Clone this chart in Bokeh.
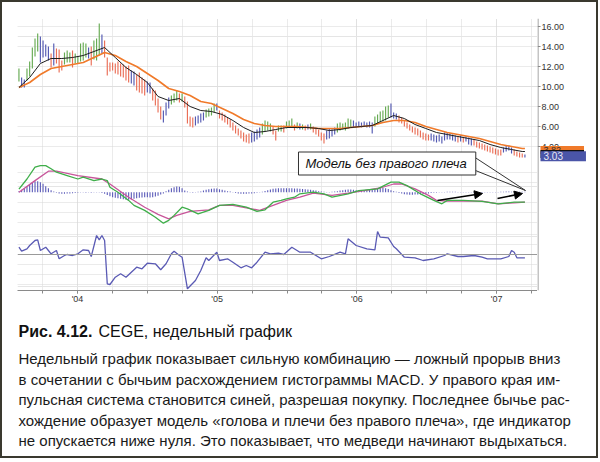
import numpy as np
import pandas as pd
from bokeh.plotting import figure
from bokeh.layouts import column, row
from bokeh.models import (Range1d, FixedTicker, Grid, Span, Label, Arrow,
                          NormalHead, ColumnDataSource)
from bokeh.embed import file_html
from bokeh.resources import INLINE
from bokeh.core.properties import value

# ---------------- data (weekly bars, CEGE) ----------------
first_week = "2003-08-01"

highs = [11.8, 10.9, 10.7, 11.8, 12.5, 13.9, 14.8, 15.3, 15.0, 14.6,
         14.2, 14.0, 13.3, 14.3, 13.8, 13.7, 12.6, 13.4, 13.6, 13.4,
         13.6, 13.3, 13.0, 14.3, 14.4, 14.3, 13.9, 14.0, 14.6, 14.8,
         16.3, 15.2, 14.6, 12.9, 12.4, 12.4, 12.3, 12.5, 12.3, 12.2,
         12.0, 12.1, 11.6, 11.5, 11.2, 11.4, 10.9, 10.7, 10.5, 10.4,
         9.8, 9.6, 8.8, 8.0, 7.6, 8.4, 8.9, 9.1, 9.3, 9.6,
         9.3, 9.3, 9.0, 8.5, 7.0, 6.9, 7.0, 7.1, 7.3, 7.4,
         7.7, 7.8, 7.9, 8.3, 8.3, 7.6, 7.4, 7.2, 6.9, 6.7,
         6.4, 6.1, 5.8, 5.6, 5.4, 5.2, 5.3, 5.4, 5.5, 5.7,
         5.9, 6.3, 6.6, 6.5, 6.3, 6.0, 5.6, 6.1, 6.1, 6.1,
         6.5, 6.6, 6.8, 6.2, 6.4, 6.3, 6.2, 6.1, 6.2, 6.3,
         6.0, 5.9, 5.7, 5.4, 5.3, 5.6, 5.8, 5.7, 5.9, 6.3,
         6.4, 6.3, 6.4, 6.8, 6.7, 6.6, 6.4, 6.5, 6.4, 6.5,
         6.4, 6.5, 6.4, 7.0, 7.2, 7.5, 7.6, 8.0, 8.1, 8.3,
         7.4, 7.3, 7.1, 6.9, 6.6, 6.4, 6.2, 6.0, 5.9, 5.8,
         5.6, 5.4, 5.3, 5.2, 5.3, 5.2, 5.1, 5.2, 5.0, 5.4,
         5.4, 5.3, 5.2, 5.1, 5.0, 5.1, 4.9, 5.0, 4.9, 4.8,
         4.7, 4.5, 4.4, 4.3, 4.2, 4.1, 4.0, 3.9, 3.8, 3.7,
         3.7, 3.9, 4.1, 4.1, 3.9, 3.7, 3.5, 3.4, 3.3, 3.2]

lows = [10.5, 9.9, 9.9, 10.6, 11.0, 11.8, 13.0, 13.5, 12.4, 12.9,
        13.0, 12.6, 11.9, 12.1, 12.3, 11.4, 11.6, 12.2, 12.4, 12.4,
        11.9, 12.3, 12.3, 12.5, 12.6, 12.9, 12.8, 12.1, 12.7, 12.6,
        13.1, 13.3, 12.9, 11.1, 11.5, 11.6, 11.3, 11.2, 11.0, 10.9,
        10.6, 10.4, 10.3, 10.1, 9.6, 9.4, 9.3, 9.1, 9.4, 9.3,
        8.6, 8.1, 7.4, 6.7, 6.4, 7.1, 7.8, 8.2, 8.4, 8.6,
        8.4, 8.5, 7.9, 6.3, 6.0, 5.9, 6.1, 6.3, 6.4, 6.6,
        6.9, 7.0, 7.1, 7.4, 7.6, 6.8, 6.6, 6.4, 6.2, 5.9,
        5.6, 5.3, 5.1, 4.8, 4.5, 4.4, 4.3, 4.4, 4.5, 4.7,
        4.9, 5.2, 5.5, 5.6, 5.5, 5.2, 4.6, 5.5, 5.5, 5.4,
        5.8, 5.9, 5.9, 5.6, 5.8, 5.7, 5.7, 5.6, 5.7, 5.7,
        5.4, 5.2, 5.0, 4.6, 4.3, 4.7, 4.8, 5.0, 5.2, 5.4,
        5.6, 5.7, 5.6, 5.8, 5.9, 5.9, 5.9, 6.0, 5.9, 6.0,
        5.9, 5.9, 5.3, 6.0, 6.3, 6.4, 6.5, 6.6, 6.9, 6.9,
        6.8, 6.7, 6.4, 6.3, 6.0, 5.8, 5.6, 5.4, 5.2, 5.1,
        4.9, 4.7, 4.6, 4.6, 4.6, 4.5, 4.4, 4.5, 4.3, 4.6,
        4.7, 4.7, 4.6, 4.5, 4.4, 4.5, 4.4, 4.5, 4.2, 4.1,
        4.1, 3.9, 3.8, 3.7, 3.6, 3.5, 3.4, 3.3, 3.2, 3.1,
        3.1, 3.4, 3.5, 3.6, 3.3, 3.1, 3.0, 2.9, 2.9, 2.9]

# impulse system colour of every bar: g = green, r = red, b = blue
impulse = ("gbbgggggbb" "bbrbrrrggg" "rgggggbrgg" "gbrrrrrrrr" "rrbbrrrrbb"
           "rrrrbbbggg" "rgrrrrbbbb" "ggggbrrrrr" "rrrrrrrbbb" "bggggrrggr"
           "gggrgbgrbg" "rrrrrbbbbg" "gggggbbbbb" "bbbggggggb" "bbrrrrrrrr"
           "rrrrbbbbbb" "bbbbrbrbbb" "rrrrrrrrrr" "rbbbbrrrrb")

# moving averages read at every 4th week
ema_weeks = [0, 4, 8, 12, 16, 20, 24, 28, 32, 36, 40, 44, 48, 52, 56, 60, 64, 68, 72, 76,
             80, 84, 88, 92, 96, 100, 104, 108, 112, 116, 120, 124, 128, 132, 136, 140,
             144, 148, 152, 156, 160, 164, 168, 172, 176, 180, 184, 188, 189]
ema_fast = [9.9, 10.9, 12.3, 12.8, 12.8, 12.9, 13.1, 13.5, 13.9, 12.9, 11.9, 11.2, 10.4,
            9.0, 8.6, 8.8, 8.0, 7.6, 7.5, 7.2, 6.6, 5.9, 5.4, 5.5, 5.7, 5.9, 5.9, 5.9,
            5.8, 5.6, 5.7, 5.9, 6.0, 6.1, 6.6, 7.1, 6.8, 6.2, 5.8, 5.4, 5.2, 5.0, 4.8,
            4.6, 4.2, 3.9, 3.7, 3.5, 3.5]
ema_slow = [9.9, 10.4, 11.2, 11.8, 12.0, 12.2, 12.4, 12.9, 13.4, 13.1, 12.5, 12.0, 11.3,
            10.6, 9.8, 9.5, 9.1, 8.5, 8.3, 7.8, 7.3, 6.7, 6.3, 6.1, 6.0, 6.0, 6.0, 5.9,
            5.8, 5.8, 5.8, 5.9, 6.0, 6.1, 6.4, 6.6, 6.6, 6.4, 6.0, 5.7, 5.4, 5.2, 5.0,
            4.8, 4.5, 4.2, 4.0, 3.8, 3.8]

# MACD lines (read points) and histogram (every week)
macd_weeks = [0, 3, 6, 8, 10, 12, 14, 18, 22, 24, 28, 31, 33, 34, 37, 41, 43, 47, 51, 54,
              56, 58, 61, 63, 67, 71, 75, 80, 85, 89, 92, 95, 98, 100, 103, 105, 110, 114,
              117, 123, 127, 134, 139, 142, 145, 150, 155, 158, 160, 166, 173, 179, 185, 189]
macd_line = [0.15, 0.66, 1.25, 1.33, 1.33, 1.17, 1.0, 0.83, 0.66, 0.75, 0.58, 0.66, 0.58,
             0.25, 0.0, -0.41, -0.66, -0.91, -1.25, -1.55, -1.41, -1.16, -0.75, -0.83,
             -1.08, -0.91, -0.66, -0.61, -0.75, -0.96, -0.88, -0.5, -0.41, -0.33, -0.25,
             -0.08, 0.0, -0.08, -0.25, -0.08, 0.08, 0.17, 0.5, 0.5, 0.33, -0.08, -0.41,
             -0.58, -0.41, -0.41, -0.46, -0.58, -0.5, -0.5]
signal_weeks = [0, 6, 11, 14, 22, 31, 34, 41, 47, 52, 56, 59, 64, 71, 75, 80, 87, 90, 95,
                100, 105, 110, 117, 123, 129, 135, 140, 143, 148, 153, 156, 160, 166, 173,
                179, 185, 189]
signal_line = [0.0, 0.58, 1.05, 1.05, 0.83, 0.66, 0.41, -0.25, -0.75, -1.11, -1.33, -1.16,
               -0.96, -0.88, -0.66, -0.66, -0.83, -0.91, -0.66, -0.41, -0.25, -0.05, -0.16,
               -0.05, 0.08, 0.21, 0.41, 0.41, 0.17, -0.16, -0.41, -0.45, -0.45, -0.45,
               -0.58, -0.53, -0.5]
macd_hist = [0.05, 0.12, 0.2, 0.3, 0.4, 0.48, 0.55, 0.55, 0.5, 0.42,
             0.3, 0.2, 0.1, 0.03, -0.03, -0.06, -0.08, -0.08, -0.07, -0.06,
             -0.05, -0.04, -0.03, -0.02, -0.02, -0.03, -0.02, -0.03, -0.02, -0.02,
             -0.02, -0.04, -0.08, -0.14, -0.2, -0.25, -0.28, -0.3, -0.33, -0.35,
             -0.38, -0.38, -0.36, -0.33, -0.3, -0.28, -0.26, -0.25, -0.25, -0.26,
             -0.25, -0.22, -0.18, -0.12, -0.06, 0.05, 0.12, 0.2, 0.25, 0.28,
             0.27, 0.2, 0.08, 0.03, -0.02, -0.03, -0.02, 0.02, 0.04, 0.08,
             0.12, 0.15, 0.17, 0.18, 0.18, 0.15, 0.12, 0.08, 0.05, 0.03,
             -0.02, -0.04, -0.06, -0.08, -0.08, -0.08, -0.07, -0.06, -0.05, -0.03,
             -0.02, 0.02, 0.06, 0.1, 0.14, 0.17, 0.18, 0.2, 0.2, 0.2,
             0.2, 0.2, 0.2, 0.19, 0.18, 0.17, 0.16, 0.15, 0.14, 0.12,
             0.1, 0.08, 0.05, 0.03, 0.02, -0.02, -0.02, 0.02, 0.03, 0.05,
             0.08, 0.1, 0.12, 0.13, 0.13, 0.12, 0.1, 0.08, 0.07, 0.08,
             0.1, 0.12, 0.14, 0.17, 0.2, 0.22, 0.22, 0.2, 0.16, 0.1,
             0.05, 0.02, -0.04, -0.07, -0.1, -0.12, -0.13, -0.13, -0.12, -0.11,
             -0.1, -0.09, -0.08, -0.06, -0.04, -0.03, -0.03, -0.02, -0.02, -0.02,
             0.02, 0.02, 0.02, 0.02, -0.02, -0.02, -0.02, -0.02, -0.02, -0.02,
             -0.03, -0.03, -0.03, -0.03, -0.02, -0.02, -0.02, -0.02, -0.02, -0.02,
             0.02, 0.02, 0.03, 0.03, 0.02, 0.02, 0.02, 0.02, 0.02, 0.02]

# Force index (read points)
force_weeks = [0, 1, 3, 4, 6, 7, 8, 10, 11, 12, 14, 15, 17, 18, 20, 22, 24, 26, 27, 29,
               30, 31, 32, 33, 34, 36, 38, 40, 42, 44, 46, 48, 51, 53, 55, 57, 58, 60, 61,
               63, 66, 68, 70, 71, 74, 75, 78, 80, 83, 85, 87, 89, 92, 94, 97, 99, 102,
               105, 109, 113, 116, 120, 122, 123, 126, 130, 133, 134, 135, 138, 140, 141,
               144, 148, 151, 155, 159, 160, 164, 166, 170, 173, 175, 180, 183, 184, 185,
               186, 189]
force_index = [0.73, 0.33, 0.57, 0.9, 1.4, 1.47, 0.4, 0.73, 0.4, 0.07, 0.4, -0.43, -0.1,
               0.0, -0.1, 0.07, 0.47, 0.4, -0.2, 1.9, 1.47, 1.9, 1.4, -2.93, -3.0, -2.27,
               -1.93, -2.27, -1.77, -1.27, -1.43, -0.87, -0.93, -1.53, -0.93, 0.07, 0.33,
               -0.1, -0.27, -3.43, -2.6, -1.6, -0.33, -0.6, 0.23, -0.6, -0.43, -0.77,
               -1.33, -1.1, -1.33, -0.77, 0.23, 0.07, 0.13, 0.0, 0.73, 0.23, 0.23, -0.43,
               -0.2, 0.23, 0.07, 1.57, 0.9, 0.57, 0.47, 2.3, 1.73, 1.67, 0.8, 0.57, -0.27,
               -0.33, -0.6, -0.43, -0.1, 0.07, -0.2, -0.2, -0.1, -0.27, -0.43, -0.43, -0.2,
               0.4, 0.23, -0.33, -0.33]

last_close = 3.03
last_ema_slow = 3.82
last_ema_fast = 3.52
price_ticks = [4, 6, 8, 10, 12, 14, 16]
price_tick_labels = ["4.00", "6.00", "8.00", "10.00", "12.00", "14.00", "16.00"]
year_ticks = [2004, 2005, 2006, 2007]
year_labels = ["'04", "'05", "'06", "'07"]
quarter_ticks = [2003.75, 2004.25, 2004.5, 2004.75, 2005.25, 2005.5, 2005.75,
                 2006.25, 2006.5, 2006.75, 2007.25]

caption_head = "Рис. 4.12."
caption_title = "CEGE, недельный график"
caption_lines = [
    "Недельный график показывает сильную комбинацию — ложный прорыв вниз",
    "в сочетании с бычьим расхождением гистограммы MACD. У правого края им-",
    "пульсная система становится синей, разрешая покупку. Последнее бычье рас-",
    "хождение образует модель «голова и плечи без правого плеча», где индикатор",
    "не опускается ниже нуля. Это показывает, что медведи начинают выдыхаться.",
]
callout_text = "Модель без правого плеча"

# ---------------- styles ----------------
COLORS = {"g": "#66aa52", "r": "#ea6e56", "b": "#5359b2"}
GRID = "#d6d6d6"
AXIS = "#8a8a8a"
FONT = "Liberation Sans"

# week dates -> decimal years
dates = pd.date_range(first_week, periods=len(highs), freq="7D")
days_in_year = np.where(dates.is_leap_year, 366.0, 365.0)
t = np.asarray(dates.year, dtype=float) + (np.asarray(dates.dayofyear, dtype=float) - 1.0) / days_in_year

X0, X1 = 2003.5705, 2007.2928
YR = Range1d(-10.4, 16.8)
p = figure(width=535, height=308, x_range=Range1d(X0, X1), y_range=YR,
           output_backend="svg", toolbar_location=None, y_axis_location=None,
           min_border_left=15, min_border_right=0, min_border_top=16, min_border_bottom=20,
           outline_line_color=None, background_fill_color="white", border_fill_color="white")
p.extra_y_ranges = {"macd": Range1d(-4.915, 8.685), "force": Range1d(-3.6, 23.6)}

# x axis / vertical grid
xt = FixedTicker(ticks=year_ticks, minor_ticks=quarter_ticks + year_ticks)
p.xaxis.ticker = xt
p.xaxis.major_label_overrides = {y: lab for y, lab in zip(year_ticks, year_labels)}
p.xaxis.axis_line_color = AXIS
p.xaxis.major_tick_line_color = AXIS
p.xaxis.minor_tick_line_color = AXIS
p.xaxis.major_tick_in = 0
p.xaxis.major_tick_out = 3
p.xaxis.minor_tick_in = 0
p.xaxis.minor_tick_out = 3
p.xaxis.major_label_standoff = 0
p.xaxis.major_label_text_font = FONT
p.xaxis.major_label_text_font_size = "9px"
p.xaxis.major_label_text_color = "#333333"
p.xgrid.ticker = xt
p.xgrid.grid_line_color = GRID
p.xgrid.grid_line_dash = "1 1"
p.xgrid.minor_grid_line_color = GRID
p.xgrid.minor_grid_line_dash = "1 1"

# horizontal grids of the three panes
p.add_layout(Grid(dimension=1, ticker=FixedTicker(ticks=price_ticks),
                  grid_line_color=GRID, grid_line_dash="1 1"))
p.add_layout(Grid(dimension=1, ticker=FixedTicker(ticks=[1.0, 0.5, -0.5, -1.0, -1.5]),
                  y_range_name="macd", grid_line_color=GRID, grid_line_dash="1 1"))
p.add_layout(Grid(dimension=1, ticker=FixedTicker(ticks=[2, 1, -1, -2, -3]),
                  y_range_name="force", grid_line_color=GRID, grid_line_dash="1 1"))
p.add_layout(Span(location=0, dimension="width", y_range_name="force",
                  line_color="#9a9a9a", line_width=1))

# price bars
bars = ColumnDataSource(dict(t=t, hi=highs, lo=lows, c=[COLORS[k] for k in impulse]))
p.segment(x0="t", y0="lo", x1="t", y1="hi", color="c", line_width=1.15, source=bars)

# moving averages
ema_t = t[ema_weeks]
p.line(ema_t, ema_slow, line_color="#f07a2a", line_width=1.6)
p.line(ema_t, ema_fast, line_color="#1e1e1e", line_width=1.0)

# MACD pane
p.segment(x0=t, y0=np.zeros(len(t)), x1=t, y1=macd_hist, line_color="#5a5ab8",
          line_width=1.1, y_range_name="macd")
p.line(t[signal_weeks], signal_line, line_color="#c8559a", line_width=1.3, y_range_name="macd")
p.line(t[macd_weeks], macd_line, line_color="#3fae4a", line_width=1.3, y_range_name="macd")

# force index pane
p.line(t[force_weeks], force_index, line_color="#5a5ab4", line_width=1.3, y_range_name="force")


# ---------------- annotation placement helpers (pixel -> data) ----------------
def tx(xpix):
    return 2004.0 + (xpix - 77.0) / 139.7


def py(ypix):
    return (186.0 - ypix) / 10.0


def my(ypix):
    return (191.7 - ypix) / 20.0


# callout with its pointer
for ys in (154, 168):
    p.add_layout(Arrow(end=None, x_start=tx(470), y_start=py(ys), x_end=tx(525), y_end=py(190),
                       line_color="#333333", line_width=1))
p.add_layout(Label(x=tx(298), y=py(163), text=callout_text, text_baseline="middle",
                   text_font=FONT, text_font_style="italic", text_font_size="13px",
                   text_color="#111111", background_fill_color="white",
                   border_line_color="#333333", border_line_width=1,
                   padding=dict(left=7, right=9, top=4, bottom=4)))

# divergence arrows in the MACD pane
for (xa, ya, xb, yb) in ((437, 200, 482, 193), (497, 198, 522, 193)):
    p.add_layout(Arrow(end=NormalHead(size=8, fill_color="black", line_color="black"),
                       x_start=tx(xa), y_start=my(ya), x_end=tx(xb), y_end=my(yb),
                       line_color="black", line_width=1.6, y_range_name="macd"))

# ---------------- right price scale (separate strip sharing the price range) ----------------
side = figure(width=59, height=308, x_range=Range1d(0, 59), y_range=YR,
              output_backend="svg", toolbar_location=None, x_axis_location=None,
              y_axis_location=None, min_border_left=0, min_border_right=0,
              min_border_top=16, min_border_bottom=20, outline_line_color=None,
              background_fill_color="white", border_fill_color="white")
side.grid.visible = False
side.add_layout(Span(location=0.5, dimension="height", line_color=AXIS, line_width=1))
side.segment(x0=0, x1=3, y0=price_ticks, y1=price_ticks, line_color=AXIS, line_width=1)
side.text(x=4, y=price_ticks, text=price_tick_labels, text_baseline="middle",
          text_font=value(FONT), text_font_size="9px", text_color="#333333")
side.add_layout(Label(x=3, y=last_ema_slow - 0.17, text="%.2f" % last_ema_slow,
                      text_baseline="middle", text_font=FONT, text_font_size="9px",
                      text_color="#333333", background_fill_color="#f07a2a",
                      padding=dict(left=3, right=23, top=1, bottom=1)))
side.add_layout(Label(x=3, y=last_ema_fast - 0.27, text="%.2f" % last_ema_fast,
                      text_baseline="middle", text_font=FONT, text_font_size="9px",
                      text_color="#ffffff", background_fill_color="#111111",
                      padding=dict(left=3, right=23, top=1, bottom=1)))
side.add_layout(Label(x=3, y=last_close, text="%.2f" % last_close, text_baseline="middle",
                      text_font=FONT, text_font_size="10px", text_color="#e8e8f4",
                      background_fill_color="#4a55a8", padding=dict(left=3, right=23, top=1, bottom=1)))

# ---------------- caption ----------------
cap = figure(width=594, height=146, x_range=Range1d(0, 594), y_range=Range1d(0, 146),
             output_backend="svg", toolbar_location=None, x_axis_location=None,
             y_axis_location=None, min_border=0, outline_line_color=None)
cap.grid.visible = False
cap.add_layout(Label(x=16, y=125, text=caption_head, text_baseline="middle", text_font=FONT,
                     text_font_style="bold", text_font_size="16px", text_color="#111111"))
cap.add_layout(Label(x=96, y=125, text=caption_title, text_baseline="middle", text_font=FONT,
                     text_font_size="16px", text_color="#111111"))
for k, line in enumerate(caption_lines):
    cap.add_layout(Label(x=16, y=98 - 20.5 * k, text=line, text_baseline="middle",
                         text_font=FONT, text_font_size="15px", text_color="#1a1a1a"))

layout = column(row(p, side, spacing=0), cap, spacing=0,
                styles={"border": "2px solid #3a392f"})
open("out.html", "w").write(file_html(layout, INLINE))
